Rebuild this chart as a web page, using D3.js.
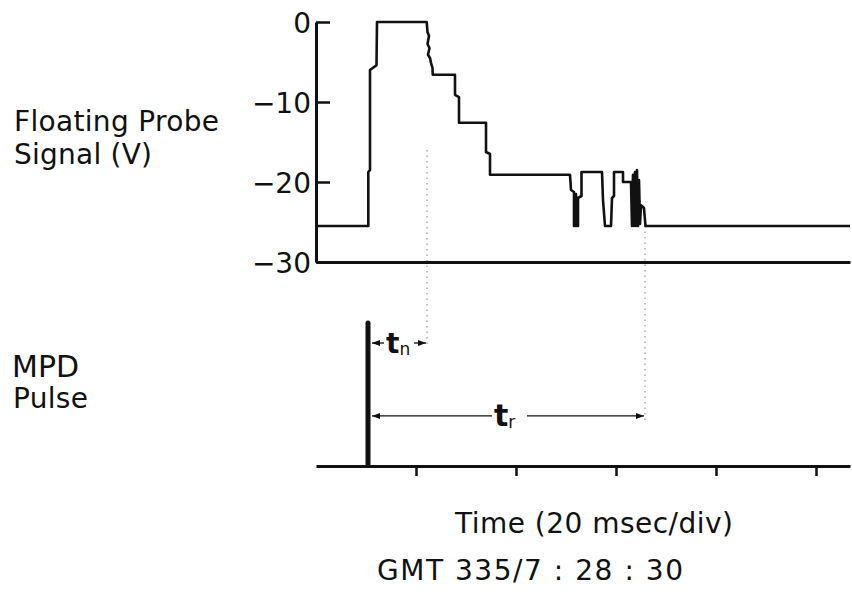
<!DOCTYPE html>
<html>
<head>
<meta charset="utf-8">
<script src="https://cdn.jsdelivr.net/npm/d3@7"></script>
<style>
  body { margin: 0; background: #fff; }
  text { font-family: "DejaVu Sans", sans-serif; fill: #111; }
</style>
</head>
<body>
<svg id="chart" width="852" height="595"></svg>
<script>
// values (time in ms from left edge, volts)
const voltTicks = [0, -10, -20, -30];
const timeTicks = [20, 40, 60, 80, 100];
const signalTrace = [
  [0, -25.5], [10.46, -25.5], [10.46, -18.75], [10.8, -18.5], [10.8, -6],
  [12.1, -5.4], [12.2, 0], [22.14, 0],
  [22.3, -1.25], [22.6, -1.75], [22.3, -2.75], [22.7, -3.25], [22.4, -4.1],
  [22.8, -4.5], [23.0, -5.1], [23.3, -5.75], [23.35, -6.6],
  [27.8, -6.6], [27.8, -9.1], [28.6, -9.4], [28.6, -12.6],
  [34.0, -12.6], [34.0, -16.25], [34.8, -16.5], [34.8, -19.1],
  [50.8, -19.1], [51.0, -21], [51.6, -21.25], [51.6, -25.5], [52.0, -25.5],
  [52.0, -21.5], [52.2, -25.5], [52.4, -25.5], [52.4, -22], [53.1, -21.75],
  [53.1, -18.75], [57.2, -18.75], [57.4, -22.25], [57.8, -25.5], [59.0, -25.5],
  [59.2, -22], [59.6, -21.75], [59.6, -18.75], [61.4, -18.75], [61.4, -20],
  [63.0, -20], [63.2, -25.5], [63.4, -19.1], [63.6, -25.5], [63.8, -18.75],
  [64.0, -25.5], [64.2, -18.5], [64.4, -25.5], [64.6, -19.75], [64.8, -25.25],
  [65.0, -22.9], [65.6, -23.25], [65.9, -25.5], [106.8, -25.5]
];
const pulseTime = [10.4];
const pulseHeight = [1];
// interval markers: start (pulse) and end time, subscript
const intervalNames = ["n", "r"];
const intervalStart = [10.4, 10.4];
const intervalEnd = [22.2, 65.8];

const svg = d3.select("#chart");
const W = 852, H = 595;

const x = d3.scaleLinear().domain([0, 106.8]).range([316, 850]);
const yTop = d3.scaleLinear().domain([-30, 0]).range([262, 22]);
const yPulse = d3.scaleLinear().domain([0, 1]).range([466, 323]);

svg.append("rect").attr("width", W).attr("height", H).attr("fill", "#fff");

// arrow head
svg.append("defs").append("marker")
  .attr("id", "arrow")
  .attr("viewBox", "0 0 8 6")
  .attr("refX", 8).attr("refY", 3)
  .attr("markerWidth", 8).attr("markerHeight", 6)
  .attr("markerUnits", "userSpaceOnUse")
  .attr("orient", "auto-start-reverse")
  .append("path").attr("d", "M0,0L8,3L0,6Z").attr("fill", "#111");

// dotted guides down from the trace
const guideTop = [yTop(-16), yTop(-25.5)];
const guideBottom = [yPulse(0.84), yPulse(0.31)];
svg.selectAll(".guide")
  .data(intervalEnd)
  .join("line")
  .attr("class", "guide")
  .attr("x1", d => x(d)).attr("x2", d => x(d))
  .attr("y1", (d, i) => guideTop[i])
  .attr("y2", (d, i) => guideBottom[i])
  .attr("stroke", "#aaa")
  .attr("stroke-width", 1.5)
  .attr("stroke-dasharray", "1.5,4");

// top panel: voltage axis
const yAxis = svg.append("g")
  .attr("transform", `translate(${x(0)},0)`)
  .call(d3.axisLeft(yTop).tickValues(voltTicks).tickSize(-14).tickSizeOuter(0).tickPadding(5));
yAxis.select(".domain").attr("stroke", "#111").attr("stroke-width", 3);
yAxis.selectAll(".tick line").attr("stroke", "#111").attr("stroke-width", 2.5);
yAxis.selectAll(".tick text")
  .attr("font-family", "DejaVu Sans, sans-serif")
  .attr("font-size", 28)
  .attr("dy", "0.38em")
  .attr("fill", "#111");

// -30 V floor line
const floor = svg.append("g")
  .attr("transform", `translate(0,${yTop(-30)})`)
  .call(d3.axisBottom(x).tickValues([]).tickSizeOuter(0));
floor.select(".domain").attr("stroke", "#111").attr("stroke-width", 3);

// probe signal
svg.append("path")
  .datum(signalTrace)
  .attr("fill", "none")
  .attr("stroke", "#111")
  .attr("stroke-width", 2.6)
  .attr("stroke-linejoin", "round")
  .attr("d", d3.line().x(d => x(d[0])).y(d => yTop(d[1])));

// bottom panel: time axis
const xAxis = svg.append("g")
  .attr("transform", `translate(0,${yPulse(0)})`)
  .call(d3.axisBottom(x).tickValues(timeTicks).tickSize(10).tickSizeOuter(0).tickFormat(""));
xAxis.select(".domain").attr("stroke", "#111").attr("stroke-width", 3);
xAxis.selectAll(".tick line").attr("stroke", "#111").attr("stroke-width", 2.5);

// MPD pulse
svg.selectAll(".pulse")
  .data(pulseTime)
  .join("line")
  .attr("class", "pulse")
  .attr("x1", d => x(d)).attr("x2", d => x(d))
  .attr("y1", yPulse(0) - 2)
  .attr("y2", (d, i) => yPulse(pulseHeight[i]))
  .attr("stroke", "#111")
  .attr("stroke-width", 5)
  .attr("stroke-linecap", "round");

// t_n and t_r intervals
const arrowY = [yPulse(0.86), yPulse(0.35)];
const labelGap = [[14, 30], [122, 143]];
const tSize = [28, 30];
intervalNames.forEach((name, i) => {
  const x0 = x(intervalStart[i]) + 4;
  const x1 = x(intervalEnd[i]) - 1;
  svg.append("line")
    .attr("x1", x0 + labelGap[i][0] - 2).attr("x2", x0)
    .attr("y1", arrowY[i]).attr("y2", arrowY[i])
    .attr("stroke", "#111").attr("stroke-width", 1.3)
    .attr("marker-end", "url(#arrow)");
  svg.append("line")
    .attr("x1", x0 + labelGap[i][1] + 12).attr("x2", x1)
    .attr("y1", arrowY[i]).attr("y2", arrowY[i])
    .attr("stroke", "#111").attr("stroke-width", 1.3)
    .attr("marker-end", "url(#arrow)");
  const t = svg.append("text")
    .attr("x", x0 + labelGap[i][0])
    .attr("y", arrowY[i] + 10)
    .attr("font-size", tSize[i])
    .attr("font-weight", "bold");
  t.append("tspan").text("t");
  t.append("tspan").attr("font-size", 17).attr("font-weight", "normal").attr("dy", 2).text(name);
});

// labels (w stretches the wider typeset lines to the reference width)
const labels = [
  { text: "Floating Probe", x: 14, y: 131, w: 205 },
  { text: "Signal (V)", x: 14, y: 164, w: 138 },
  { text: "MPD", x: 12, y: 377, w: null },
  { text: "Pulse", x: 13, y: 408, w: 75 },
  { text: "Time (20 msec/div)", x: 455, y: 533, w: 278 },
  { text: "GMT 335/7 : 28 : 30", x: 377, y: 580, w: 306 }
];
svg.selectAll(".label")
  .data(labels)
  .join("text")
  .attr("class", "label")
  .attr("x", d => d.x)
  .attr("y", d => d.y)
  .attr("font-size", d => d.w ? 28 : 30)
  .attr("textLength", d => d.w)
  .attr("lengthAdjust", "spacing")
  .text(d => d.text);
</script>
</body>
</html>
